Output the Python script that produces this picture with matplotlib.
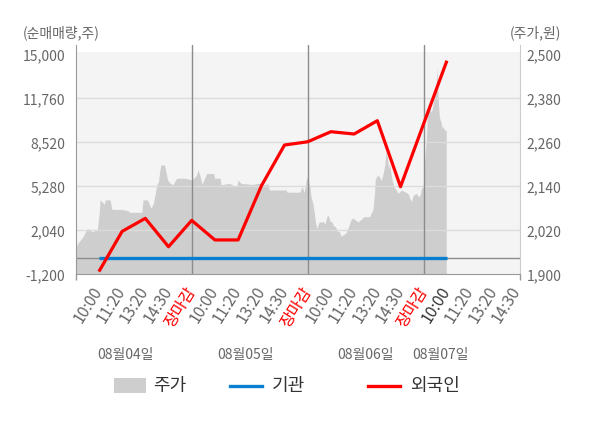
import numpy as np
import matplotlib
matplotlib.use('Agg')
import matplotlib.pyplot as plt
from matplotlib.patches import Rectangle
from matplotlib.lines import Line2D
from matplotlib.ticker import FuncFormatter
import matplotlib.transforms as mtransforms

plt.rcParams['font.family'] = ['Noto Sans CJK KR', 'DejaVu Sans']

# ---------------- data ----------------
time_labels = ['10:00', '11:20', '13:20', '14:30', '장마감',
               '10:00', '11:20', '13:20', '14:30', '장마감',
               '10:00', '11:20', '13:20', '14:30', '장마감',
               '10:00', '11:20', '13:20', '14:30']
dates = ['08월04일', '08월05일', '08월06일', '08월07일']

foreign = [-1000, 1960, 2920, 830, 2770, 1330, 1330, 5300, 8320, 8560,
           9300, 9130, 10110, 5250, 9900, 14530]
institution = [0, 0, 0, 0, 0, 0, 0, 0, 0, 0, 0, 0, 0, 0, 0, 0]

day_starts = [-1, 4, 9, 14]
price_day1_t = [0.00, 0.11, 0.33, 0.48, 0.62, 0.69, 0.93, 1.02, 1.05, 1.24,
                1.27, 1.48, 1.56, 1.99, 2.27, 2.32, 2.85, 2.90, 3.09, 3.25,
                3.35, 3.50, 3.57, 3.61, 3.67, 3.83, 3.96, 4.08, 4.19, 4.30,
                4.36, 4.72, 5.00]
price_day1 = [1975, 1986, 2004, 2024, 2023, 2016, 2021, 2071, 2103, 2091,
              2103, 2103, 2077, 2077, 2073, 2069, 2069, 2103, 2103, 2080,
              2094, 2144, 2153, 2175, 2198, 2198, 2157, 2148, 2144, 2157,
              2162, 2162, 2157]
price_day2_t = [0.00, 0.16, 0.23, 0.27, 0.39, 0.43, 0.52, 0.65, 0.95, 0.98,
                1.23, 1.26, 1.63, 1.80, 1.96, 1.99, 2.13, 2.64, 2.84, 3.00,
                3.04, 3.21, 3.30, 3.35, 4.07, 4.11, 4.66, 4.76, 4.85, 4.95,
                5.00]
price_day2 = [2157, 2166, 2175, 2186, 2162, 2145, 2157, 2175, 2175, 2162,
              2162, 2144, 2148, 2142, 2142, 2157, 2148, 2145, 2148, 2148,
              2142, 2146, 2146, 2130, 2130, 2124, 2124, 2139, 2123, 2162,
              2163]
price_day3_t = [0.00, 0.10, 0.14, 0.22, 0.29, 0.33, 0.39, 0.46, 0.50, 0.69,
                0.75, 0.79, 0.86, 0.92, 0.98, 1.05, 1.11, 1.20, 1.27, 1.37,
                1.44, 1.51, 1.58, 1.65, 1.73, 1.80, 1.87, 1.94, 2.02, 2.16,
                2.23, 2.31, 2.38, 2.45, 2.67, 2.74, 2.81, 2.88, 2.91, 3.00,
                3.10, 3.17, 3.25, 3.32, 3.39, 3.44, 3.49, 3.53, 3.58, 3.64,
                3.72, 3.79, 3.90, 3.97, 4.04, 4.30, 4.36, 4.40, 4.47, 4.55,
                4.69, 4.76, 4.83, 4.91, 5.00]
price_day3 = [2163, 2135, 2112, 2094, 2066, 2043, 2025, 2037, 2043, 2043,
              2037, 2050, 2062, 2055, 2043, 2043, 2032, 2030, 2019, 2016,
              2004, 2007, 2010, 2013, 2025, 2037, 2050, 2053, 2050, 2043,
              2046, 2050, 2055, 2057, 2057, 2068, 2075, 2121, 2157, 2171,
              2165, 2155, 2175, 2198, 2239, 2216, 2189, 2203, 2180, 2157,
              2137, 2132, 2121, 2125, 2130, 2121, 2116, 2107, 2098, 2116,
              2121, 2112, 2114, 2135, 2139]
price_day4_t = [0.00, 0.02, 0.07, 0.12, 0.16, 0.19, 0.26, 0.30, 0.36, 0.41,
                0.48, 0.52, 0.55, 0.58, 0.59, 0.62, 0.65, 0.69, 0.74, 0.80,
                0.84, 0.89, 0.97]
price_day4 = [2139, 2193, 2230, 2275, 2339, 2357, 2353, 2343, 2348, 2366,
              2394, 2403, 2430, 2466, 2430, 2384, 2348, 2325, 2316, 2298,
              2303, 2294, 2292]

left_ticks = [-1200, 2040, 5280, 8520, 11760, 15000]
right_ticks = [1900, 2020, 2140, 2260, 2380, 2500]

# ---------------- figure ----------------
W, H = 600, 428
fig = plt.figure(figsize=(W / 100, H / 100), dpi=100)
fig.patch.set_facecolor('white')

ax_l, ax_r, ax_t, ax_b = 75.7, 520.0, 45.0, 274.3
ax = fig.add_axes([ax_l / W, (H - ax_b) / H, (ax_r - ax_l) / W, (ax_b - ax_t) / H])
ax.set_xlim(-1, 18.15)
px_per_unit_r = 600 / 220.0
ax.set_ylim(1900, 2500 + (54.3 - ax_t) * px_per_unit_r)
ax.set_facecolor('white')

ax2 = ax.twinx()
px_per_unit_l = 16200 / 220.0
ax2.set_ylim(-1200, 15000 + (54.3 - ax_t) * px_per_unit_l)

# plot background band
ax.axhspan(1900, 2500 + 2.6 * px_per_unit_r, color='#f4f4f4', lw=0, zorder=0)

# price area
price_days = [(price_day1_t, price_day1), (price_day2_t, price_day2),
              (price_day3_t, price_day3), (price_day4_t, price_day4)]
xs, ys = [], []
for start, (t, p) in zip(day_starts, price_days):
    xs.extend(start + np.array(t))
    ys.extend(p)
ax.fill_between(xs, 1900, ys, color='#cecece', lw=0, zorder=1)

# grid lines (left scale) above the area
for v in left_ticks[1:-1]:
    ax2.axhline(v, color='#dcdcdc', lw=1, zorder=1)
ax2.axhline(0, color='#8c8c8c', lw=1, zorder=2)
for d in day_starts[1:]:
    ax2.axvline(d, color='#8c8c8c', lw=1, zorder=2)

idx = np.arange(len(foreign))
ax2.plot(idx, institution, color='#0a7fd0', lw=2.4, solid_capstyle='butt', zorder=3)
ax2.plot(idx, foreign, color='#ff0000', lw=2.3, solid_capstyle='butt', zorder=4)

# spines
for s in ax.spines.values():
    s.set_visible(False)
ax2.spines['top'].set_visible(False)
ax2.spines['left'].set_color('#999999')
ax2.spines['bottom'].set_color('#999999')
ax2.spines['right'].set_color('#cccccc')

# y ticks
ax2.yaxis.tick_left()
ax2.set_yticks(left_ticks)
ax2.yaxis.set_major_formatter(FuncFormatter(lambda v, p: f'{int(v):,}'))
ax2.tick_params(axis='y', length=0, pad=7.7, labelsize=10, labelcolor='#666666')
ax.yaxis.tick_right()
ax.set_yticks(right_ticks)
ax.yaxis.set_major_formatter(FuncFormatter(lambda v, p: f'{int(v):,}'))
ax.tick_params(axis='y', length=0, pad=4.8, labelsize=10, labelcolor='#666666')

# x ticks
ax.set_xticks(np.arange(len(time_labels)))
ax.set_xticklabels(time_labels)
ax.tick_params(axis='x', which='major', length=0, pad=10, labelsize=11.5, labelcolor='#666666')
for i, lbl in enumerate(ax.get_xticklabels()):
    lbl.set_rotation(58)
    lbl.set_rotation_mode('anchor')
    lbl.set_ha('right')
    lbl.set_va('center')
    if time_labels[i] == '장마감':
        lbl.set_color('#ff0000')
    elif i == len(foreign) - 1:
        lbl.set_color('#333333')
ax.set_xticks(day_starts + [ax.get_xlim()[1]], minor=True)
ax.tick_params(axis='x', which='minor', length=4, width=1, color='#999999')

# date labels
date_pos = [1.125, 6.3, 11.47, 14.73]
btr = mtransforms.blended_transform_factory(ax.transData, fig.transFigure)
for x, d in zip(date_pos, dates):
    fig.text(x, 1 - 355 / H, d, transform=btr, ha='center', va='center',
             fontsize=10, color='#666666')

# axis headers
fig.text(22.7 / W, 1 - 33 / H, '(순매매량,주)', ha='left', va='center',
         fontsize=10, color='#666666')
fig.text(561 / W, 1 - 33 / H, '(주가,원)', ha='right', va='center',
         fontsize=10, color='#666666')

# legend (manual)
ly = 386
fig.add_artist(Rectangle((114 / W, 1 - 393 / H), 32 / W, 15 / H,
                         transform=fig.transFigure, color='#cecece', lw=0))
fig.text(153 / W, 1 - ly / H, '주가', ha='left', va='center', fontsize=13, color='#333333')
fig.add_artist(Line2D([230 / W, 262 / W], [1 - ly / H, 1 - ly / H],
                      transform=fig.transFigure, color='#0a7fd0', lw=2.4))
fig.text(272 / W, 1 - ly / H, '기관', ha='left', va='center', fontsize=13, color='#333333')
fig.add_artist(Line2D([368 / W, 400 / W], [1 - ly / H, 1 - ly / H],
                      transform=fig.transFigure, color='#ff0000', lw=2.4))
fig.text(410 / W, 1 - ly / H, '외국인', ha='left', va='center', fontsize=13, color='#333333')

fig.savefig('out.png', dpi=100)
